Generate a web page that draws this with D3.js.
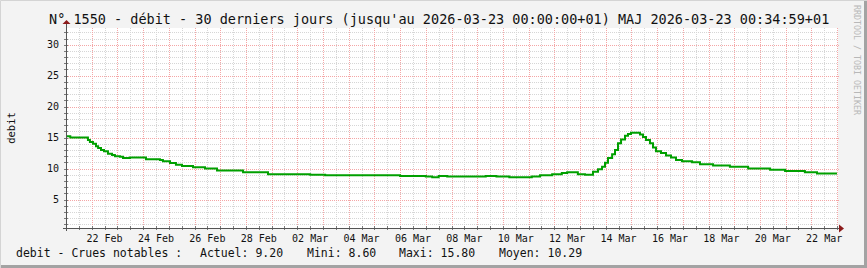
<!DOCTYPE html>
<html>
<head>
<meta charset="utf-8">
<script src="https://cdn.jsdelivr.net/npm/d3@7"></script>
<style>
  html, body { margin: 0; padding: 0; background: #f3f3f3; }
  svg { display: block; font-family: "DejaVu Sans Mono", monospace; }
</style>
</head>
<body>
<svg id="chart" width="867" height="268"></svg>
<script>
// débit readings, step changes (local time +01)
const times = [
  "2026-02-21 00:00", "2026-02-21 04:00", "2026-02-21 20:30", "2026-02-21 22:20",
  "2026-02-22 01:10", "2026-02-22 04:00", "2026-02-22 06:00", "2026-02-22 08:40",
  "2026-02-22 11:30", "2026-02-22 15:10", "2026-02-22 19:00", "2026-02-22 21:40",
  "2026-02-23 02:25", "2026-02-23 05:15", "2026-02-23 11:45", "2026-02-24 02:40",
  "2026-02-24 15:45", "2026-02-24 18:30", "2026-02-25 01:10", "2026-02-25 06:40",
  "2026-02-25 12:20", "2026-02-25 22:35", "2026-02-26 09:50", "2026-02-26 21:00",
  "2026-02-27 21:20", "2026-02-28 20:40", "2026-03-02 00:00", "2026-03-02 12:00",
  "2026-03-03 02:00", "2026-03-06 00:00", "2026-03-07 00:00", "2026-03-07 06:00",
  "2026-03-07 12:00", "2026-03-07 20:00", "2026-03-09 08:00", "2026-03-09 18:00",
  "2026-03-10 06:00", "2026-03-11 03:00", "2026-03-11 10:40", "2026-03-11 22:00",
  "2026-03-12 07:00", "2026-03-12 12:00", "2026-03-12 22:00", "2026-03-13 04:40",
  "2026-03-13 12:10", "2026-03-13 16:50", "2026-03-13 20:35", "2026-03-13 23:20",
  "2026-03-14 02:10", "2026-03-14 06:00", "2026-03-14 08:40", "2026-03-14 11:30",
  "2026-03-14 14:20", "2026-03-14 18:00", "2026-03-14 20:50", "2026-03-14 23:35",
  "2026-03-15 08:00", "2026-03-15 10:50", "2026-03-15 13:40", "2026-03-15 17:20",
  "2026-03-15 20:10", "2026-03-15 23:00", "2026-03-16 03:40", "2026-03-16 08:20",
  "2026-03-16 13:00", "2026-03-16 17:40", "2026-03-16 23:15", "2026-03-17 08:40",
  "2026-03-17 16:05", "2026-03-18 04:15", "2026-03-18 20:00", "2026-03-19 13:00",
  "2026-03-20 09:30", "2026-03-20 23:30", "2026-03-21 18:00", "2026-03-22 05:20",
  "2026-03-23 00:00"
];
const debit = [
  15.2, 15.0, 14.6, 14.3,
  14.0, 13.6, 13.3, 13.0,
  12.8, 12.4, 12.2, 12.0,
  11.9, 11.7, 11.8, 11.5,
  11.4, 11.2, 10.9, 10.6,
  10.4, 10.2, 10.0, 9.7,
  9.4, 9.1, 9.1, 9.0,
  8.9, 8.8, 8.7, 8.6,
  8.8, 8.7, 8.8, 8.7,
  8.6, 8.7, 8.9, 9.1,
  9.3, 9.4, 9.1, 9.0,
  9.5, 9.9, 10.3, 10.95,
  11.7, 12.3, 13.0, 14.1,
  14.7, 15.3, 15.6, 15.8,
  15.5, 15.1, 14.6, 14.1,
  13.4, 12.8, 12.5, 12.1,
  11.8, 11.4, 11.2, 11.0,
  10.7, 10.5, 10.3, 10.0,
  9.8, 9.6, 9.4, 9.2,
  9.2
];
const yTicks = [5, 10, 15, 20, 25, 30];
const legendItems = ["debit - Crues notables :", "Actuel: 9.20", "Mini: 8.60", "Maxi: 15.80", "Moyen: 10.29"];
const legendX = [16, 200, 307, 399, 499];

const title = "N° 1550 - débit - 30 derniers jours (jusqu'au 2026-03-23 00:00:00+01) MAJ 2026-03-23 00:34:59+01";

const W = 867, H = 268;
const mLeft = 66, mRight = 837, mTop = 28, mBottom = 228;

const parse = d3.utcParse("%Y-%m-%d %H:%M");
const data = times.map((t, i) => ({ t: parse(t), v: debit[i] }));
const t0 = parse("2026-02-21 00:00"), t1 = parse("2026-03-23 00:00");

const x = d3.scaleUtc().domain([t0, t1]).range([mLeft, mRight]);
const y = d3.scaleLinear().domain([0.4, 32.7]).range([mBottom, mTop]);

const svg = d3.select("#chart");

// frame
svg.append("rect").attr("width", W).attr("height", H).attr("fill", "#f3f3f3");
svg.append("path").attr("d", `M0.5,${H} V0.5 H${W}`).attr("stroke", "#d4d4d4").attr("stroke-width", 1).attr("fill", "none");
svg.append("path").attr("d", `M1,${H - 1.5} H${W - 1.5} V1`).attr("stroke", "#a3a3a3").attr("stroke-width", 3).attr("fill", "none");

// canvas
svg.append("rect")
  .attr("x", mLeft).attr("y", mTop)
  .attr("width", mRight - mLeft + 1).attr("height", mBottom - mTop)
  .attr("fill", "#ffffff");

const grid = svg.append("g").attr("shape-rendering", "crispEdges");

// minor grid
const halfDays = d3.utcHour.every(12).range(t0, t1).filter((d) => d.getUTCHours() === 12);
const minorY = d3.range(1, 33).filter((v) => v % 5 !== 0);
grid.selectAll(".mx").data(halfDays).join("line")
  .attr("x1", (d) => Math.round(x(d)) + 0.5).attr("x2", (d) => Math.round(x(d)) + 0.5)
  .attr("y1", mTop).attr("y2", mBottom)
  .attr("stroke", "#d6d6d6").attr("stroke-dasharray", "1,1");
grid.selectAll(".my").data(minorY).join("line")
  .attr("x1", mLeft).attr("x2", mRight)
  .attr("y1", (d) => Math.round(y(d)) + 0.5).attr("y2", (d) => Math.round(y(d)) + 0.5)
  .attr("stroke", "#d6d6d6").attr("stroke-dasharray", "1,1");

// major grid
const days = d3.utcDay.range(d3.utcDay.offset(t0, 1), d3.utcDay.offset(t1, 1));
grid.selectAll(".Mx").data(days).join("line")
  .attr("x1", (d) => Math.round(x(d)) + 0.5).attr("x2", (d) => Math.round(x(d)) + 0.5)
  .attr("y1", mTop).attr("y2", mBottom + 2)
  .attr("stroke", "#f4a6a6").attr("stroke-dasharray", "1,1");
grid.selectAll(".My").data(yTicks).join("line")
  .attr("x1", mLeft - 2).attr("x2", mRight + 2)
  .attr("y1", (d) => Math.round(y(d)) + 0.5).attr("y2", (d) => Math.round(y(d)) + 0.5)
  .attr("stroke", "#f4a6a6").attr("stroke-dasharray", "1,1");

// axis tick marks
grid.selectAll(".ty").data(d3.range(1, 33)).join("line")
  .attr("x1", mLeft - 2).attr("x2", mLeft + 2)
  .attr("y1", (d) => Math.round(y(d)) + 0.5).attr("y2", (d) => Math.round(y(d)) + 0.5)
  .attr("stroke", "#7a7a7a");
grid.selectAll(".tx").data(halfDays.concat(days)).join("line")
  .attr("x1", (d) => Math.round(x(d)) + 0.5).attr("x2", (d) => Math.round(x(d)) + 0.5)
  .attr("y1", mBottom - 2).attr("y2", mBottom + 2)
  .attr("stroke", "#7a7a7a");

// data line
const line = d3.line().curve(d3.curveStepAfter).x((d) => x(d.t)).y((d) => y(d.v));
svg.append("path")
  .datum(data)
  .attr("fill", "none")
  .attr("stroke", "#00a000")
  .attr("stroke-width", 2)
  .attr("d", line);

// axes lines + arrows
svg.append("line").attr("x1", mLeft + 0.5).attr("x2", mLeft + 0.5).attr("y1", mTop - 4).attr("y2", mBottom + 3)
  .attr("stroke", "#555").attr("shape-rendering", "crispEdges");
svg.append("line").attr("x1", mLeft - 3).attr("x2", mRight + 2).attr("y1", mBottom + 0.5).attr("y2", mBottom + 0.5)
  .attr("stroke", "#555").attr("shape-rendering", "crispEdges");
svg.append("path").attr("d", `M${mLeft - 3.5},${mTop - 4} L${mLeft + 0.5},${mTop - 8} L${mLeft + 4.5},${mTop - 4} Z`).attr("fill", "#8b1a1a");
svg.append("path").attr("d", `M${mRight + 2},${mBottom - 3.5} L${mRight + 7},${mBottom + 0.5} L${mRight + 2},${mBottom + 4.5} Z`).attr("fill", "#8b1a1a");

// x labels, centred on the day
const labelDays = d3.utcDay.range(t0, t1).filter((d, i) => i % 2 === 1);
const fmt = d3.utcFormat("%d %b");
svg.append("g").selectAll("text").data(labelDays).join("text")
  .attr("x", (d) => x(d3.utcHour.offset(d, 12)))
  .attr("y", 242)
  .attr("text-anchor", "middle")
  .attr("font-size", 10)
  .attr("fill", "#111")
  .text(fmt);

// y labels
svg.append("g").selectAll("text").data(yTicks).join("text")
  .attr("x", 59)
  .attr("y", (d) => y(d))
  .attr("dy", "0.35em")
  .attr("text-anchor", "end")
  .attr("font-size", 10)
  .attr("fill", "#111")
  .text((d) => d);

// y title
svg.append("text")
  .attr("transform", "translate(15,128) rotate(-90)")
  .attr("text-anchor", "middle")
  .attr("font-size", 10.5)
  .attr("fill", "#111")
  .text("debit");

// title
svg.append("text")
  .attr("x", 49).attr("y", 24)
  .attr("font-size", 13.5)
  .attr("fill", "#111")
  .text(title);

// legend
svg.append("g").selectAll("text").data(legendItems).join("text")
  .attr("x", (d, i) => legendX[i])
  .attr("y", 257)
  .attr("font-size", 11.5)
  .attr("fill", "#111")
  .text((d) => d);

// watermark
svg.append("text")
  .attr("transform", "translate(854,5) rotate(90)")
  .attr("font-size", 8.3)
  .attr("fill", "#b8b8b8")
  .text("RRDTOOL / TOBI OETIKER");
</script>
</body>
</html>
